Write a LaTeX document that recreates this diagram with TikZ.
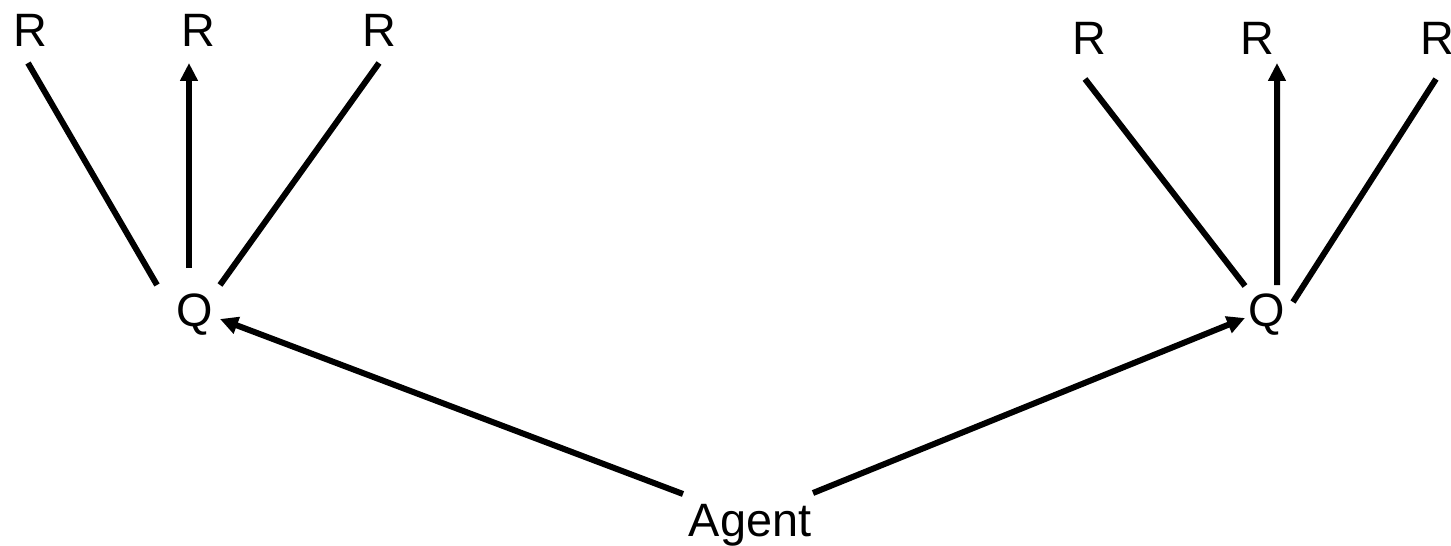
\documentclass[tikz,border=0pt]{standalone}
\usepackage{fontspec}
\setmainfont{Liberation Sans}
\usetikzlibrary{arrows.meta}
\begin{document}
\begin{tikzpicture}[x=1bp,y=-1bp,
  lbl/.style={anchor=base,inner sep=0pt,font=\fontsize{47}{50}\selectfont},
  link/.style={line width=6bp},
  arr/.style={link,-{Triangle[length=18bp,width=17bp]}}]
\useasboundingbox (0,0) rectangle (1451,546);
% labels
\node[lbl] (r1) at (30,47) {R};
\node[lbl] (r2) at (198,47) {R};
\node[lbl] (r3) at (379,47) {R};
\node[lbl] (q1) at (194.5,326) {Q};
\node[lbl] (r4) at (1089,55) {R};
\node[lbl] (r5) at (1257,55) {R};
\node[lbl] (r6) at (1437,55) {R};
\node[lbl] (q2) at (1266.5,326) {Q};
\node[lbl] (agent) at (750,536) {Agent};
% left fan
\draw[link] ([shift={(-2,16)}]r1.base) -- ([shift={(-37.5,-41)}]q1.base);
\draw[arr] ([shift={(-5.5,-58)}]q1.base) -- ([shift={(-9,16)}]r2.base);
\draw[link] ([shift={(25.5,-41)}]q1.base) -- ([shift={(0,16)}]r3.base);
% right fan
\draw[link] ([shift={(-4,24)}]r4.base) -- ([shift={(-21.5,-40)}]q2.base);
\draw[arr] ([shift={(10.5,-41)}]q2.base) -- ([shift={(20,8)}]r5.base);
\draw[link] ([shift={(26.5,-24)}]q2.base) -- ([shift={(-1,24)}]r6.base);
% agent to both Q
\draw[arr] ([shift={(-67,-42)}]agent.base) -- ([shift={(25.5,-7)}]q1.base);
\draw[arr] ([shift={(63,-43)}]agent.base) -- ([shift={(-21.5,-8)}]q2.base);
\end{tikzpicture}
\end{document}
